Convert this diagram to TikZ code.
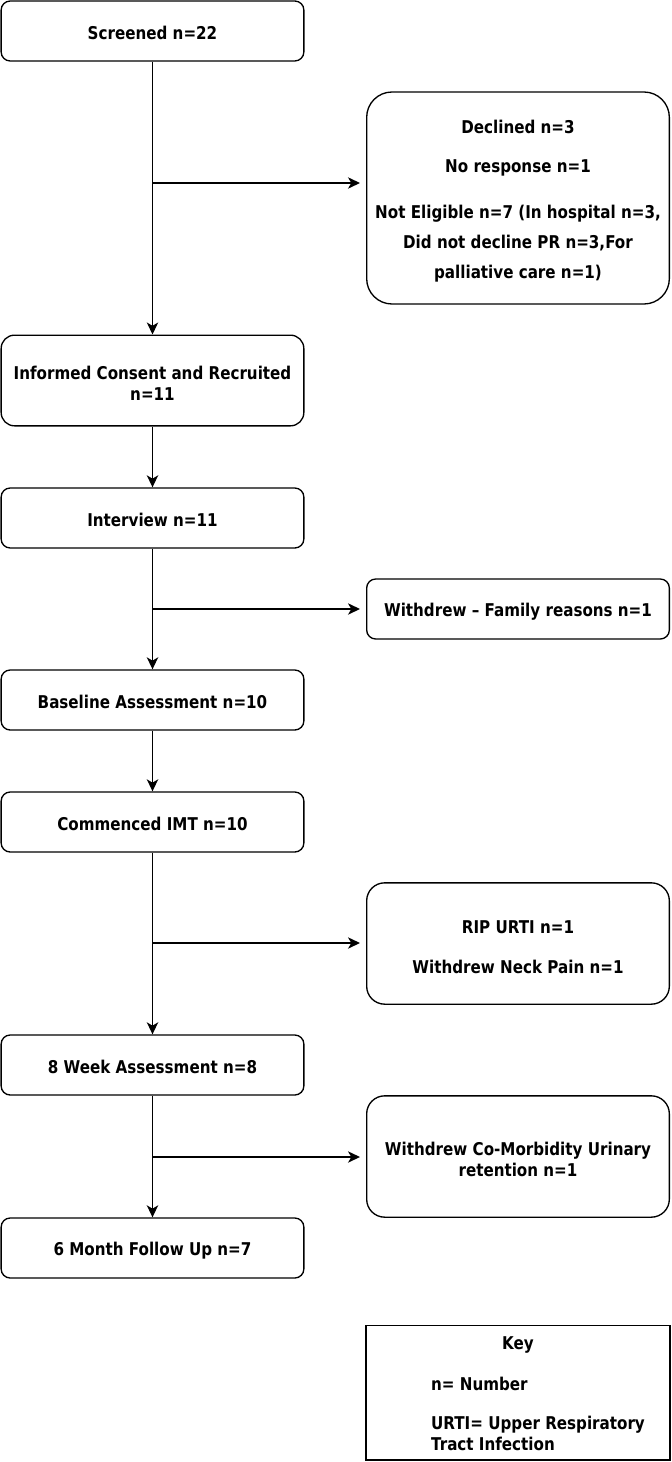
\documentclass[tikz,border=0pt]{standalone}
\usepackage{fontspec}
\setmainfont{DejaVu Sans}[FakeStretch=0.86]
\usetikzlibrary{arrows.meta}

\newcommand{\toppad}{\rule{0pt}{14.5pt}}

\begin{document}
\begin{tikzpicture}[x=0.75pt,y=-0.75pt,
	font=\bfseries\fontsize{13.2}{15.75}\selectfont,
	stage/.style={draw, line width=1pt, rounded corners=6.75pt, minimum width=227pt, align=center, inner sep=0pt,
		execute at begin node={\rule{0pt}{13.5pt}}},
	side/.style={stage},
	keybox/.style={draw, line width=1pt, minimum width=228pt, minimum height=101pt, inner sep=0pt},
	flow/.style={-{Stealth[length=9pt,width=8.5pt,inset=2.5pt]}, line width=1pt}]
		\useasboundingbox (0,0) rectangle (671,1462);
		\node[stage, minimum height=45pt] at (152.5,31)(screened){Screened n=22};
		\node[side, minimum height=159pt, rounded corners=19pt] at (518,198)(declined){\toppad Declined n=3\\[13.5pt]No response n=1\\[18.75pt]Not Eligible n=7 (In hospital n=3,\\[6.75pt]Did not decline PR n=3,For\\[6.75pt]palliative care n=1)};
		\node[stage, minimum height=68pt, rounded corners=10pt] at (152.5,380.5)(consent){\toppad Informed Consent and Recruited\\n=11};
		\node[stage, minimum height=45pt] at (152.5,518)(interview){Interview n=11};
		\node[side, minimum height=45pt] at (518,609)(family){Withdrew -- Family reasons n=1};
		\node[stage, minimum height=45pt] at (152.5,700)(baseline){Baseline Assessment n=10};
		\node[stage, minimum height=45pt] at (152.5,822)(imt){Commenced IMT n=10};
		\node[side, minimum height=91pt, rounded corners=13.5pt] at (518,943.5)(urti){\toppad RIP URTI n=1\\[14.25pt]Withdrew Neck Pain n=1};
		\node[stage, minimum height=45pt] at (152.5,1065)(week8){8 Week Assessment n=8};
		\node[side, minimum height=91pt, rounded corners=13.5pt] at (518,1156.5)(urinary){\toppad Withdrew Co-Morbidity Urinary\\retention n=1};
		\node[stage, minimum height=45pt] at (152.5,1248)(month6){6 Month Follow Up n=7};
		\node[keybox] at (518,1392.5)(key){\begin{tabular}{@{\hspace{30pt}}l@{}}\multicolumn{1}{@{}c@{}}{\rule{0pt}{15.5pt}Key}\\[15pt]n= Number\\[13.5pt]URTI= Upper Respiratory\\Tract Infection\end{tabular}};

		\coordinate (b1) at (152.5,183);
		\coordinate (b2) at (152.5,609);
		\coordinate (b3) at (152.5,943);
		\coordinate (b4) at (152.5,1157);

		\path[flow] (screened) edge (consent)(consent) edge (interview)(interview) edge (baseline)
			(baseline) edge (imt)(imt) edge (week8)(week8) edge (month6);
		\path[flow, shorten >=4.5pt] (b1) edge (b1 -| declined.west)(b2) edge (family)(b3) edge (b3 -| urti.west)(b4) edge (b4 -| urinary.west);
	\end{tikzpicture}
\end{document}
